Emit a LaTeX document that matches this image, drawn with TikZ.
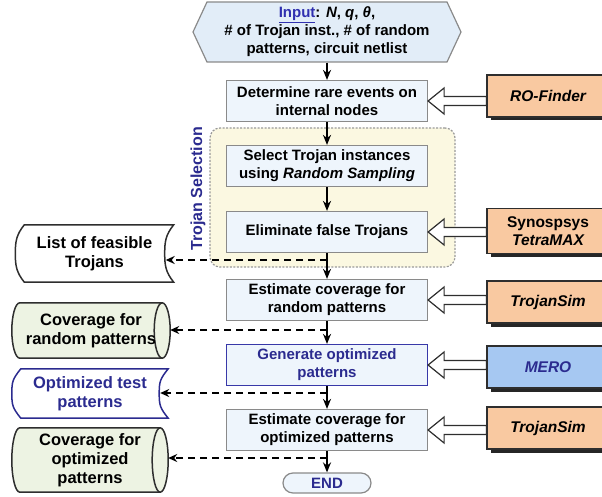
\documentclass[tikz,border=0pt]{standalone}
\usepackage{fontspec}
\setmainfont{Liberation Sans}
\usetikzlibrary{arrows.meta}
\usetikzlibrary{shapes}
\usetikzlibrary{shadows}
\usetikzlibrary{calc}
\usetikzlibrary{backgrounds}
\usepackage{xcolor}

\definecolor{boxfill}{HTML}{EEF5FC}
\definecolor{boxline}{HTML}{8A8A8A}
\definecolor{infill}{HTML}{E2EDF8}
\definecolor{selfill}{HTML}{FBF8E1}
\definecolor{toolfill}{HTML}{F9C9A1}
\definecolor{merofill}{HTML}{A6C8F2}
\definecolor{greenfill}{HTML}{EDF3E3}
\definecolor{darkblue}{HTML}{2B2B8F}
\definecolor{genline}{HTML}{3838A8}
\definecolor{inblue}{HTML}{3030B0}
\definecolor{darkline}{HTML}{2E2E2E}

\tikzset{
  txt/.style={font=\fontsize{15}{18}\selectfont\bfseries},
  stepbox/.style={txt, rectangle, draw=boxline, line width=1.2pt, fill=boxfill,
    minimum width=201pt, minimum height=41pt, align=center, inner sep=2pt},
  inbox/.style={txt, signal, signal to=west and east, signal pointer angle=130,
    draw=boxline, line width=1.2pt, fill=infill, minimum width=268pt,
    minimum height=60pt, align=center, inner sep=1pt},
  endbox/.style={txt, rounded rectangle, draw=boxline, line width=1.2pt, fill=boxfill,
    text=darkblue, minimum width=90pt, minimum height=20pt, inner sep=1pt},
  selbox/.style={rectangle, rounded corners=10pt, draw=gray!80, line width=1.2pt,
    dash pattern=on 2pt off 1.5pt, fill=selfill, minimum width=245pt, minimum height=139pt},
  toolbox/.style={txt, rectangle, draw=darkline, line width=1.2pt, fill=toolfill,
    minimum width=122pt, minimum height=42pt, align=center, font=\fontsize{15.5}{18}\selectfont\bfseries\itshape,
    drop shadow={shadow xshift=3.5pt, shadow yshift=-3.5pt, fill=black!85, opacity=1}},
  outbox/.style={rectangle, minimum width=158pt, minimum height=57pt, align=center, inner sep=1pt,
    font=\fontsize{16.5}{19}\selectfont\bfseries},
  storeline/.style={draw=darkline, line width=1.5pt},
  flow/.style={line width=1.7pt, -{Stealth[length=10pt,width=8pt]}},
  feed/.style={line width=2.2pt, dash pattern=on 7pt off 5pt, -{Stealth[length=9pt,width=8pt]}},
  hollow/.style={draw=darkline, line width=1.2pt, fill=white}
}

\newcommand{\toolarrow}[2]{%
  \draw[hollow] (#2.east) -- ++(16,-13) -- ++(0,8.5) -- ($(#1.west |- #2.east)+(0,-4.5)$)
    -- ++(0,9) -- ($(#2.east)+(16,4.5)$) -- ++(0,8.5) -- cycle;}
\newcommand{\storedata}[2]{%
  \draw[storeline, #2] ([xshift=9pt]#1.north west) -- (#1.north east)
    .. controls ([xshift=-8pt,yshift=-10pt]#1.north east) and ([xshift=-9pt,yshift=12pt]#1.east) .. ([xshift=-9pt]#1.east)
    .. controls ([xshift=-9pt,yshift=-12pt]#1.east) and ([xshift=-8pt,yshift=10pt]#1.south east) .. (#1.south east)
    -- ([xshift=9pt]#1.south west)
    .. controls ([xshift=1pt,yshift=10pt]#1.south west) and ([yshift=-12pt]#1.west) .. (#1.west)
    .. controls ([yshift=12pt]#1.west) and ([xshift=1pt,yshift=-10pt]#1.north west) .. cycle;}
\newcommand{\drum}[1]{%
  \begin{scope}[on background layer]
  \draw[storeline, fill=greenfill] ([xshift=8pt]#1.north west) -- ([xshift=-8pt]#1.north east)
    .. controls ([xshift=-3.6pt]#1.north east) and ($(#1.east)!0.55!(#1.north east)$) .. (#1.east)
    .. controls ($(#1.east)!0.55!(#1.south east)$) and ([xshift=-3.6pt]#1.south east) .. ([xshift=-8pt]#1.south east)
    -- ([xshift=8pt]#1.south west)
    .. controls ([xshift=3.6pt]#1.south west) and ($(#1.west)!0.55!(#1.south west)$) .. (#1.west)
    .. controls ($(#1.west)!0.55!(#1.north west)$) and ([xshift=3.6pt]#1.north west) .. cycle;
  \draw[storeline] ([xshift=-8pt]#1.north east)
    .. controls ([xshift=-12.4pt]#1.north east) and ($(#1.east)!0.55!(#1.north east)+(-16,0)$) .. ([xshift=-16pt]#1.east)
    .. controls ($(#1.east)!0.55!(#1.south east)+(-16,0)$) and ([xshift=-12.4pt]#1.south east) .. ([xshift=-8pt]#1.south east);
  \end{scope}}

\begin{document}
\begin{tikzpicture}[x=1pt,y=-1pt]
\clip (0,0) rectangle (602,497);

\node[selbox] (sel) at (332.5,197.5) {};
\node[rotate=90, font=\fontsize{16}{16}\selectfont\bfseries, text=darkblue] (lbl) at (198,189) {Trojan Selection};

\node[inbox] (inp) at (327,32) {\textcolor{inblue}{\underline{Input}}: \textit{N}, \textit{q}, \textit{θ},\\\# of Trojan inst., \# of random\\patterns, circuit netlist};
\node[stepbox] (rare) at (327,101) {Determine rare events on\\internal nodes};
\node[stepbox] (samp) at (327,166) {Select Trojan instances\\using \textit{Random Sampling}};
\node[stepbox] (elim) at (327,232) {Eliminate false Trojans};
\node[stepbox] (covr) at (327,300) {Estimate coverage for\\random patterns};
\node[stepbox, draw=genline, text=darkblue] (gen) at (327,365) {Generate optimized\\patterns};
\node[stepbox] (covo) at (327,430) {Estimate coverage for\\optimized patterns};
\node[endbox] (fin) at (327,483) {END};

\node[toolbox] (rof) at (548,96) {RO-Finder};
\node[toolbox, minimum height=45pt] (tmax) at (548,231) {\upshape Synospsys\\TetraMAX};
\node[toolbox] (ts1) at (548,302) {TrojanSim};
\node[toolbox, fill=merofill, text=darkblue] (mero) at (548,367) {MERO};
\node[toolbox] (ts2) at (548,428) {TrojanSim};

\node[outbox] (lst) at (94.5,253.5) {List of feasible\\Trojans};
\storedata{lst}{}
\node[outbox, minimum width=158pt, minimum height=55pt] (rnd) at (91,330.5) {Coverage for\\random patterns};
\drum{rnd}
\node[outbox, text=darkblue, minimum width=156pt, minimum height=49pt] (opt) at (90,393.5) {Optimized test\\patterns};
\storedata{opt}{draw=darkblue}
\node[outbox, minimum width=156pt, minimum height=64pt] (opc) at (90,460) {Coverage for\\optimized\\patterns};
\drum{opc}

\coordinate (j1) at (327,260);
\coordinate (j2) at (327,330);
\coordinate (j3) at (327,393);
\coordinate (j4) at (327,458);
\draw[feed] (j1) -- ($(j1 -| lst.east)+(-8,0)$);
\draw[feed] (j2) -- (j2 -| rnd.east);
\draw[feed] (j3) -- ($(j3 -| opt.east)+(-8,0)$);
\draw[feed] (j4) -- (j4 -| opc.east);

\foreach \a/\b in {inp/rare, rare/samp, samp/elim, elim/covr, covr/gen, gen/covo, covo/fin}
  \draw[flow] (\a.south) -- (\b.north);

\foreach \t/\b in {rof/rare, tmax/elim, ts1/covr, mero/gen, ts2/covo}
  {\toolarrow{\t}{\b}}
\end{tikzpicture}
\end{document}
